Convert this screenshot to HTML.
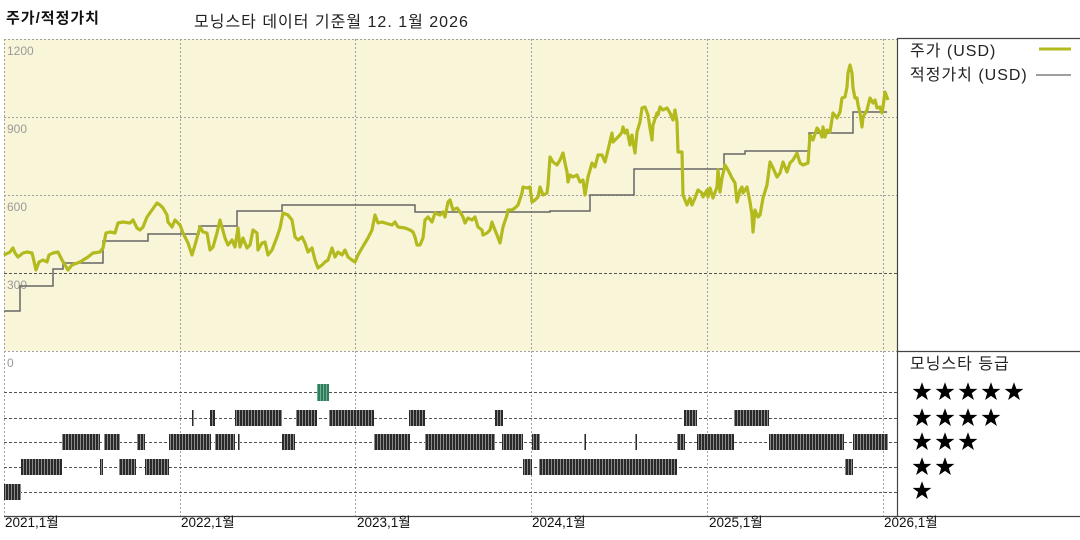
<!DOCTYPE html>
<html><head><meta charset="utf-8">
<style>
html,body{margin:0;padding:0;background:#fff;}
body{width:1080px;height:540px;overflow:hidden;position:relative;font-family:"Liberation Sans","Noto Sans CJK KR","NanumGothic",sans-serif;}
svg{position:absolute;left:0;top:0;}
</style></head>
<body>
<svg width="1080" height="540" viewBox="0 0 1080 540" xmlns="http://www.w3.org/2000/svg">
<defs>
<pattern id="stripe" width="3" height="20" patternUnits="userSpaceOnUse">
<rect x="0" y="0" width="3" height="20" fill="#2a2a2a"/>
<rect x="2" y="0" width="1" height="20" fill="#8a8a8a"/>
</pattern>
<pattern id="gstripe" width="3" height="20" patternUnits="userSpaceOnUse">
<rect x="0" y="0" width="3" height="20" fill="#2f7d5c"/>
<rect x="2" y="0" width="1" height="20" fill="#6fae92"/>
</pattern>
</defs>
<g font-family="Liberation Sans, Noto Sans CJK KR, NanumGothic, sans-serif">
<text x="6" y="23" font-size="15" font-weight="bold" letter-spacing="1" fill="#111">주가/적정가치</text>
<text x="194" y="27" font-size="16" letter-spacing="1" fill="#222">모닝스타 데이터 기준월 12. 1월 2026</text>
</g>
<!-- top panel bg -->
<rect x="4" y="39" width="893" height="312" fill="#f9f5d8"/>
<!-- grid top -->
<g stroke="#a0a0a0" stroke-width="1" stroke-dasharray="2,2" fill="none">
<line x1="4" y1="39.5" x2="897" y2="39.5"/>
<line x1="4" y1="117.5" x2="897" y2="117.5"/>
<line x1="4" y1="195.5" x2="897" y2="195.5"/>
<line x1="4" y1="351.5" x2="897" y2="351.5"/>
<line x1="4.5" y1="39" x2="4.5" y2="516"/>
<line x1="180.5" y1="39" x2="180.5" y2="516"/>
<line x1="355.5" y1="39" x2="355.5" y2="516"/>
<line x1="531.5" y1="39" x2="531.5" y2="516"/>
<line x1="707.5" y1="39" x2="707.5" y2="516"/>
<line x1="883.5" y1="39" x2="883.5" y2="516"/>
</g>
<g stroke="#555" stroke-width="1" stroke-dasharray="3,2" fill="none">
<line x1="4" y1="273.5" x2="897" y2="273.5"/>
<line x1="4" y1="392.5" x2="897" y2="392.5"/>
<line x1="4" y1="418.5" x2="897" y2="418.5"/>
<line x1="4" y1="442.5" x2="897" y2="442.5"/>
<line x1="4" y1="467.5" x2="897" y2="467.5"/>
<line x1="4" y1="492.5" x2="897" y2="492.5"/>
</g>
<!-- y labels -->
<g font-size="12" fill="#9a9a9a" font-family="Liberation Sans, sans-serif">
<text x="7" y="55">1200</text>
<text x="7" y="133">900</text>
<text x="7" y="211">600</text>
<text x="7" y="289">300</text>
<text x="7" y="367">0</text>
</g>
<!-- fair value -->
<path d="M4,311 H20 V286 H53 V269 H63 V263 H103 V241 H148 V234 H199 V226 H237 V211 H282 V205 H415 V212 H550 V211 H590 V195 H634 V169 H724 V154 H745 V151 H809 V133 H853 V112 H887" fill="none" stroke="#666" stroke-width="1.5"/>
<!-- price -->
<polyline fill="none" stroke="#b2ba1e" stroke-width="3.2" stroke-linejoin="round" points="4,255 10,252 13,248 15,253 18,257 23,253 27,252 32,253 33,257 36,270 39,262 43,260 47,262 49,255 53,253 58,252 62,260 65,265 68,270 72,265 80,262 88,257 93,253 100,252 103,248 106,233 110,232 115,233 118,223 123,222 130,223 133,220 137,228 140,230 143,227 147,217 152,210 157,203 160,205 163,208 167,215 168,222 172,227 175,220 180,225 183,233 188,243 192,255 195,245 200,227 203,232 207,233 210,250 213,247 217,233 220,220 225,238 228,245 232,240 235,247 238,228 240,247 243,238 247,248 250,245 253,230 257,233 258,250 262,243 265,242 268,255 272,250 277,237 280,228 283,213 288,215 292,220 295,237 298,240 302,237 305,243 308,252 312,248 315,260 318,268 322,265 325,262 328,260 332,248 335,257 338,252 342,255 345,250 348,257 352,260 355,262 358,255 362,248 365,243 368,238 372,230 375,215 378,223 382,222 385,223 392,225 395,222 398,227 405,228 410,230 413,232 415,237 417,245 420,245 423,238 425,220 428,217 432,222 435,213 440,215 443,212 445,217 448,202 450,200 453,210 457,208 460,212 463,217 465,223 468,218 472,220 475,217 478,227 482,230 483,235 487,233 490,230 492,222 493,225 497,235 500,243 503,227 507,215 508,210 512,210 515,208 518,205 522,193 523,187 527,188 530,187 532,202 535,200 538,197 540,187 543,195 547,193 548,185 550,157 553,162 557,165 560,160 563,153 565,163 567,172 568,182 570,175 573,177 577,175 580,182 583,180 585,195 588,177 592,163 595,167 598,155 602,155 605,162 608,150 612,133 613,142 617,138 620,135 622,132 623,127 625,133 627,130 630,145 632,135 633,142 635,153 637,132 640,122 642,108 645,107 648,115 650,128 652,140 653,125 657,113 658,115 660,107 663,110 667,108 670,113 673,120 675,110 677,122 678,152 682,152 683,195 687,205 690,198 692,205 695,198 698,190 702,193 703,197 707,190 708,197 710,188 713,198 717,187 718,170 720,192 722,178 725,165 728,170 732,178 735,183 737,202 740,190 742,187 743,193 747,187 750,202 752,215 753,232 755,210 758,217 760,215 763,198 767,185 770,162 773,168 777,177 780,173 783,162 787,172 790,163 793,160 797,153 800,163 803,165 808,163 810,135 813,140 817,128 820,132 822,137 823,127 825,137 827,130 830,132 833,113 837,118 840,112 842,98 845,97 847,87 848,73 850,65 852,73 853,88 855,98 857,98 858,105 860,113 862,127 863,117 867,110 870,98 873,103 875,100 877,108 880,107 882,113 883,107 885,92 888,100"/>
<!-- rating bars -->
<rect x="317" y="384" width="12" height="17" fill="url(#gstripe)"/>
<g fill="url(#stripe)">
<rect x="192" y="410" width="1.5" height="16"/>
<rect x="210" y="410" width="5" height="16"/>
<rect x="235" y="410" width="47" height="16"/>
<rect x="296" y="410" width="21" height="16"/>
<rect x="329" y="410" width="45" height="16"/>
<rect x="409" y="410" width="16" height="16"/>
<rect x="495" y="410" width="8" height="16"/>
<rect x="684" y="410" width="13" height="16"/>
<rect x="734" y="410" width="35" height="16"/>
<rect x="62" y="434" width="38" height="16"/>
<rect x="104" y="434" width="16" height="16"/>
<rect x="137" y="434" width="8" height="16"/>
<rect x="169" y="434" width="42" height="16"/>
<rect x="215" y="434" width="20" height="16"/>
<rect x="238" y="434" width="2" height="16"/>
<rect x="282" y="434" width="13" height="16"/>
<rect x="374" y="434" width="36" height="16"/>
<rect x="425" y="434" width="70" height="16"/>
<rect x="502" y="434" width="21" height="16"/>
<rect x="532" y="434" width="8" height="16"/>
<rect x="584" y="434" width="2" height="16"/>
<rect x="635" y="434" width="2" height="16"/>
<rect x="677" y="434" width="8" height="16"/>
<rect x="697" y="434" width="37" height="16"/>
<rect x="769" y="434" width="75" height="16"/>
<rect x="853" y="434" width="35" height="16"/>
<rect x="21" y="459" width="41" height="16"/>
<rect x="100" y="459" width="3" height="16"/>
<rect x="119" y="459" width="17" height="16"/>
<rect x="145" y="459" width="24" height="16"/>
<rect x="523" y="459" width="9" height="16"/>
<rect x="539" y="459" width="138" height="16"/>
<rect x="845" y="459" width="8" height="16"/>
<rect x="4" y="484" width="17" height="16"/>
</g>
<!-- frame lines -->
<g stroke="#444" stroke-width="1.2" fill="none">
<line x1="897.5" y1="38" x2="897.5" y2="516"/>
<line x1="897" y1="38.5" x2="1080" y2="38.5"/>
<line x1="897" y1="351.5" x2="1080" y2="351.5"/>
<line x1="4" y1="516.5" x2="1080" y2="516.5"/>
</g>
<!-- legend -->
<g font-size="16" letter-spacing="1" fill="#222" font-family="Liberation Sans, Noto Sans CJK KR, NanumGothic, sans-serif">
<text x="910" y="56">주가 (USD)</text>
<text x="910" y="80">적정가치 (USD)</text>
<text x="910" y="369">모닝스타 등급</text>
</g>
<line x1="1039" y1="49" x2="1071" y2="49" stroke="#b2ba1e" stroke-width="3"/>
<line x1="1036" y1="75" x2="1071" y2="75" stroke="#666" stroke-width="1.2"/>
<!-- stars -->
<g fill="#000">
<path id="st" d="M0,-9.8 L2.4,-3.1 L9.4,-3.1 L3.8,1.15 L5.9,8 L0,3.9 L-5.9,8 L-3.8,1.15 L-9.4,-3.1 L-2.4,-3.1 Z" transform="translate(922,392)"/>
<use href="#st" x="23" y="0"/><use href="#st" x="46" y="0"/><use href="#st" x="69" y="0"/><use href="#st" x="92" y="0"/>
<use href="#st" x="0" y="26"/><use href="#st" x="23" y="26"/><use href="#st" x="46" y="26"/><use href="#st" x="69" y="26"/>
<use href="#st" x="0" y="50"/><use href="#st" x="23" y="50"/><use href="#st" x="46" y="50"/>
<use href="#st" x="0" y="75"/><use href="#st" x="23" y="75"/>
<use href="#st" x="0" y="99"/>
</g>
<!-- x labels -->
<g font-size="13.5" fill="#111" font-family="Liberation Sans, Noto Sans CJK KR, NanumGothic, sans-serif">
<text x="5" y="527">2021,1월</text>
<text x="181" y="527">2022,1월</text>
<text x="357" y="527">2023,1월</text>
<text x="532" y="527">2024,1월</text>
<text x="709" y="527">2025,1월</text>
<text x="884" y="527">2026,1월</text>
</g>
</svg>
</body></html>
